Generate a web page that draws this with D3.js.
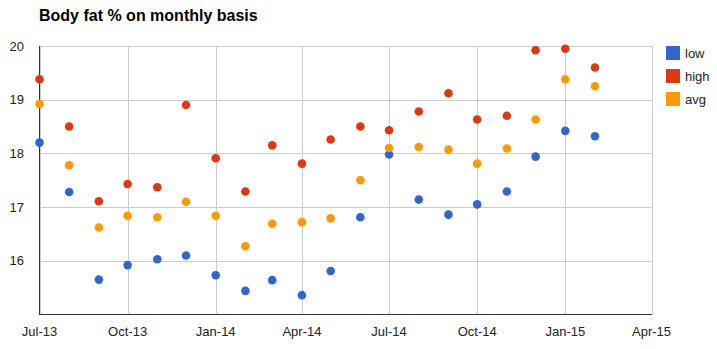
<!DOCTYPE html>
<html><head><meta charset="utf-8">
<script src="https://cdn.jsdelivr.net/npm/d3@7/dist/d3.min.js"></script>
<style>body{margin:0;background:#fff;}svg{display:block;font-family:Arial,"Liberation Sans",sans-serif;}</style>
</head><body>
<script>
const months = ["2013-07","2013-08","2013-09","2013-10","2013-11","2013-12","2014-01","2014-02","2014-03","2014-04","2014-05","2014-06","2014-07","2014-08","2014-09","2014-10","2014-11","2014-12","2015-01","2015-02"];
const low  = [18.20,17.28,15.65,15.92,16.03,16.10,15.73,15.44,15.64,15.36,15.81,16.81,17.98,17.14,16.86,17.05,17.29,17.94,18.42,18.32];
const high = [19.38,18.50,17.11,17.43,17.37,18.90,17.91,17.29,18.15,17.81,18.26,18.50,18.43,18.78,19.12,18.63,18.70,19.92,19.95,19.60];
const avg  = [18.92,17.78,16.62,16.84,16.81,17.10,16.84,16.27,16.69,16.72,16.79,17.50,18.10,18.12,18.07,17.81,18.09,18.63,19.38,19.25];
const seriesNames = ["low","high","avg"];
const colors = ["#3366cc","#dc3912","#ff9900"];
const yTicks = [16,17,18,19,20];
const xTickLabels = ["Jul-13","Oct-13","Jan-14","Apr-14","Jul-14","Oct-14","Jan-15","Apr-15"];
const title = "Body fat % on monthly basis";

const W = 717, H = 349;
const m = {left: 39.5, right: 651.5, top: 46, bottom: 314.5};
const parse = d3.timeParse("%Y-%m");
const fmt = d3.timeFormat("%b-%y");
const x = d3.scaleTime().domain([new Date(2013,6,1), new Date(2015,3,1)]).range([m.left, m.right]);
const y = d3.scaleLinear().domain([15,20]).range([m.bottom, m.top]);

const svg = d3.select("body").append("svg").attr("width", W).attr("height", H);

svg.append("text").attr("x", 39).attr("y", 21).attr("font-size", 16).attr("font-weight", "bold").attr("fill", "#000").text(title);

const xTicks = d3.timeMonth.every(3).range(new Date(2013,6,1), new Date(2015,3,2));
// gridlines
svg.append("g").selectAll("line").data(yTicks).join("line")
  .attr("x1", m.left).attr("x2", m.right).attr("y1", d => Math.round(y(d)) + 0.5).attr("y2", d => Math.round(y(d)) + 0.5)
  .attr("stroke", "#cccccc");
svg.append("g").selectAll("line").data(xTicks).join("line")
  .attr("x1", d => Math.round(x(d)) + 0.5).attr("x2", d => Math.round(x(d)) + 0.5).attr("y1", m.top).attr("y2", m.bottom)
  .attr("stroke", "#cccccc");

// axes lines
svg.append("line").attr("x1", m.left).attr("x2", m.left).attr("y1", m.top).attr("y2", m.bottom + 0.5).attr("stroke", "#333");
svg.append("line").attr("x1", m.left).attr("x2", m.right + 0.5).attr("y1", m.bottom).attr("y2", m.bottom).attr("stroke", "#333");

// y labels
svg.append("g").selectAll("text").data(yTicks).join("text")
  .attr("x", 24).attr("y", d => y(d)).attr("dy", "0.35em").attr("text-anchor", "end")
  .attr("font-size", 13).attr("fill", "#222").text(d => d);
// x labels
svg.append("g").selectAll("text").data(xTicks).join("text")
  .attr("x", d => x(d)).attr("y", 331).attr("dy", "0.35em").attr("text-anchor", "middle")
  .attr("font-size", 13).attr("fill", "#222").text((d, i) => xTickLabels[i] || fmt(d));

// points
[low, high, avg].forEach((vals, si) => {
  svg.append("g").selectAll("circle").data(vals).join("circle")
    .attr("cx", (d, i) => x(parse(months[i]))).attr("cy", d => y(d)).attr("r", 4.3)
    .attr("fill", colors[si]);
});

// legend
const lg = svg.append("g").attr("transform", "translate(666,46)");
seriesNames.forEach((n, i) => {
  lg.append("rect").attr("x", 0).attr("y", i * 23).attr("width", 14).attr("height", 14).attr("fill", colors[i]);
  lg.append("text").attr("x", 19).attr("y", i * 23 + 7).attr("dy", "0.35em").attr("font-size", 13).attr("fill", "#222").text(n);
});
</script>
</body></html>
